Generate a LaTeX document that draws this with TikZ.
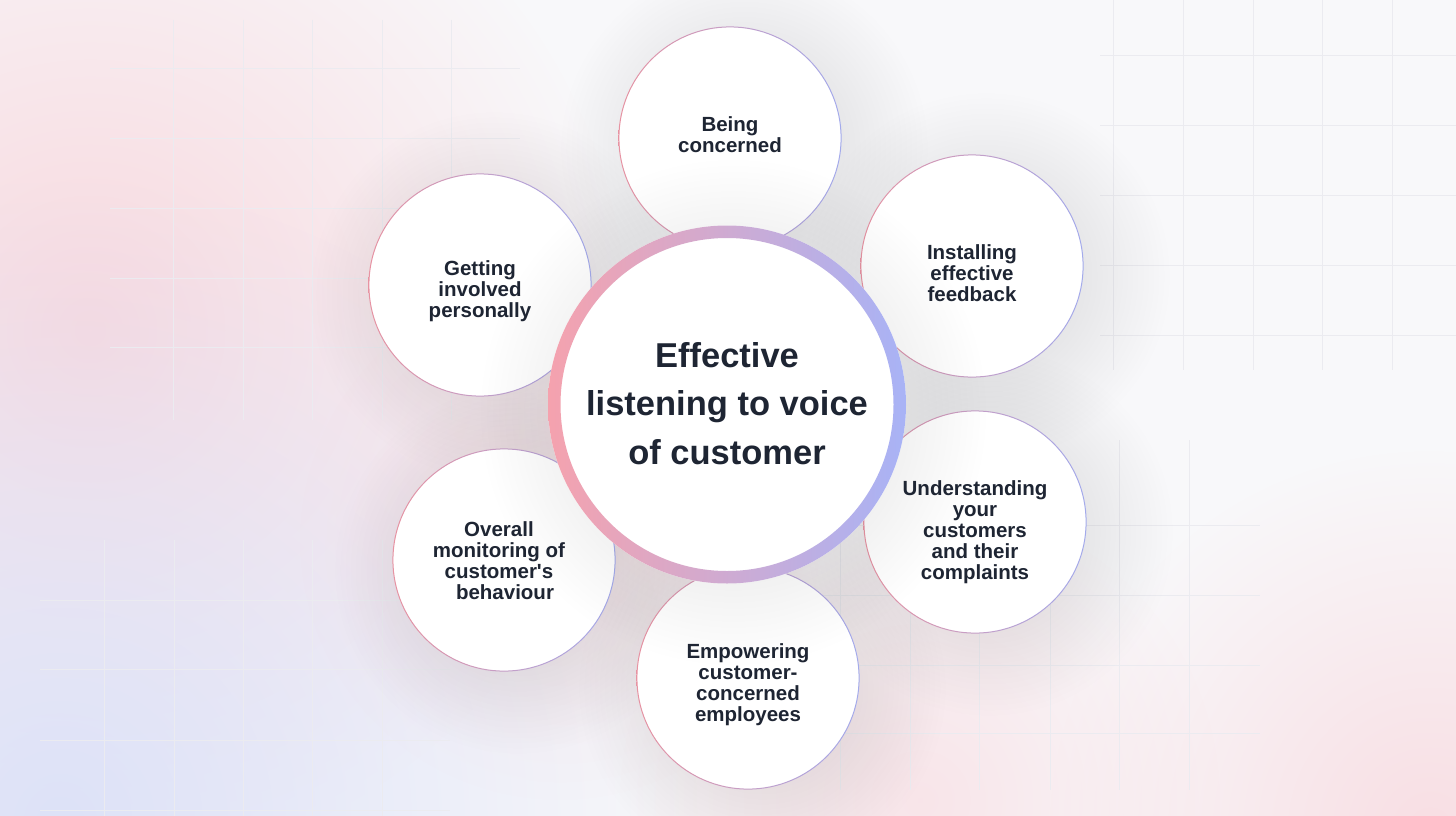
\documentclass[tikz,border=0pt]{standalone}
\usepackage{fontspec}
\setmainfont[Ligatures=TeXOff]{Liberation Sans}
\usetikzlibrary{fadings}

\definecolor{bgwhite}{HTML}{F8F8FA}
\definecolor{gridgray}{HTML}{EBEBF0}
\definecolor{glowpink}{HTML}{F9D8DE}
\definecolor{glowblue}{HTML}{DDE2F8}
\definecolor{ringpink}{HTML}{F5A2AE}
\definecolor{ringblue}{HTML}{A8B3F6}
\definecolor{edgepink}{HTML}{E793A2}
\definecolor{edgeblue}{HTML}{A3AAEC}
\definecolor{inkdark}{HTML}{1E2533}

% soft round fading for glows and shadows
\tikzfading[name=glow, inner color=transparent!0, outer color=transparent!100]

\begin{document}
\begin{tikzpicture}[x=1pt,y=-1pt]
	\tikzstyle{every node}=[font=\bfseries\fontsize{20.5pt}{21pt}\selectfont, text=inkdark, align=center, inner sep=0pt]
	\tikzstyle{gridline}=[gridgray, line width=1pt]
	\tikzstyle{softshadow}=[black, opacity=0.14, path fading=glow]
	\tikzstyle{bubbleedge}=[left color=edgepink, right color=edgeblue, even odd rule]
	
	\useasboundingbox (0,0) rectangle (1456,816);
	\fill[bgwhite] (0,0) rectangle (1456,816);
	
	% background glows
	\fill[glowpink, path fading=glow] (90,330) circle (540);
	\fill[glowblue, path fading=glow] (60,820) circle (640);
	\fill[glowpink, path fading=glow, opacity=0.8] (1430,830) circle (380);
	\fill[glowpink, path fading=glow, opacity=0.6] (920,800) circle (300);
	\fill[glowpink, path fading=glow, opacity=0.5] (560,540) circle (260);
	
	% faint grid patches
	\foreach \x in {173,243,312,382,451} \draw[gridline] (\x,20) -- (\x,420);
	\foreach \y in {69,138,208,278,347} \draw[gridline] (110,\y) -- (520,\y);
	\foreach \x in {104,174,243,312,382} \draw[gridline] (\x,540) -- (\x,816);
	\foreach \y in {600,669,740,810} \draw[gridline] (40,\y) -- (450,\y);
	\foreach \x in {1113,1183,1253,1322,1392} \draw[gridline] (\x,0) -- (\x,370);
	\foreach \y in {56,125,195,265,335} \draw[gridline] (1100,\y) -- (1456,\y);
	\foreach \x in {840,910,979,1050,1119,1189} \draw[gridline] (\x,440) -- (\x,790);
	\foreach \y in {525,595,665,733} \draw[gridline] (820,\y) -- (1260,\y);
	
	% shadows of the outer circles
	\foreach \cx/\cy in {730/138, 972/266, 975/522, 748/678, 504/560, 480/285}
		\fill[softshadow] (\cx+14,\cy+10) circle (185);
	
	% outer circles
	\foreach \cx/\cy in {730/138, 972/266, 975/522, 748/678, 504/560, 480/285}{
		\fill[white] (\cx,\cy) circle (111);
		\shade[bubbleedge] (\cx,\cy) circle (111.6) (\cx,\cy) circle (110.6);
	}
	
	% central circle
	\fill[black, opacity=0.16, path fading=glow] (733,412) circle (255);
	\fill[white] (727,404.5) circle (179);
	\shade[left color=ringpink, right color=ringblue, even odd rule] (727,404.5) circle (179) (727,404.5) circle (166.5);
	
	\node[font=\bfseries\fontsize{34.5pt}{48.5pt}\selectfont] (core) at (727,403.5) {Effective\\listening to voice\\of customer};
	
	\node (concerned) at (730,135) {Being\\concerned};
	\node (feedback) at (972,273) {Installing\\effective\\feedback};
	\node (complaints) at (975,532.5) {Understanding\\your\\customers\\and their\\complaints};
	\node (empowering) at (748,685) {Empowering\\customer-\\concerned\\employees};
	\node (monitoring) at (499,560.5) {Overall\\monitoring of\\customer's\\\hspace*{12pt}behaviour};
	\node (involved) at (480,291) {Getting\\involved\\personally};
	
\end{tikzpicture}
\end{document}
